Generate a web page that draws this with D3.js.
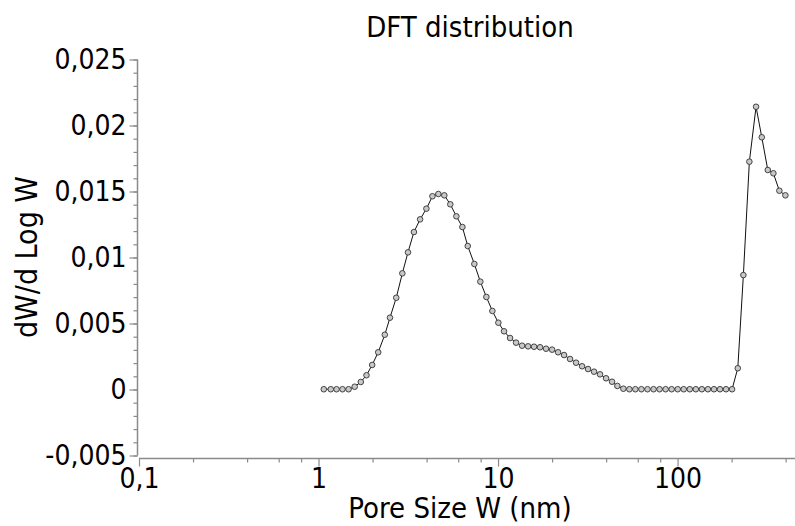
<!DOCTYPE html>
<html>
<head>
<meta charset="utf-8">
<script src="https://cdn.jsdelivr.net/npm/d3@7"></script>
<style>
  html, body { margin: 0; padding: 0; background: #fff; }
  svg { display: block; }
  text { font-family: "DejaVu Sans Condensed", "DejaVu Sans", sans-serif; font-stretch: condensed; fill: #000; }
</style>
</head>
<body>
<svg id="chart"></svg>
<script>
// pore size W (nm)
const poreSize = [
  1.07, 1.17, 1.26, 1.36, 1.47, 1.59, 1.72, 1.85, 1.99, 2.15,
  2.34, 2.50, 2.71, 2.93, 3.15, 3.40, 3.68, 3.99, 4.31, 4.65,
  5.02, 5.42, 5.86, 6.33, 6.78, 7.38, 7.97, 8.61, 9.30, 10.04,
  10.80, 11.67, 12.60, 13.61, 14.70, 15.87, 17.14, 18.51, 20.00, 21.60,
  23.32, 25.19, 27.20, 29.38, 31.72, 34.26, 37.00, 39.96, 43.16, 46.19,
  49.90, 53.9, 58.2, 62.9, 68.0, 73.5, 79.4, 85.8, 92.7, 100.2,
  108.2, 117.0, 126.4, 136.6, 147.6, 159.5, 172.3, 186.2, 201.2, 216.5,
  232.6, 251.2, 273.7, 294.5, 318.1, 341.8, 369.0, 398.7
];

// dW/d Log W
const dWdLogW = [
  0.00002, 0.00002, 0.00002, 0.00002, 0.00002, 0.00021, 0.00057, 0.00108, 0.00186, 0.00282,
  0.00415, 0.00544, 0.00695, 0.00880, 0.01039, 0.01193, 0.01289, 0.01370, 0.01464, 0.01481,
  0.01471, 0.01403, 0.01312, 0.01231, 0.01087, 0.00951, 0.00817, 0.00701, 0.00595, 0.00506,
  0.00441, 0.00390, 0.00355, 0.00332, 0.00327, 0.00324, 0.00320, 0.00309, 0.00302, 0.00282,
  0.00261, 0.00231, 0.00203, 0.00176, 0.00155, 0.00135, 0.00115, 0.00085, 0.00059, 0.00027,
  0.00006, 0.00002, 0.00002, 0.00002, 0.00002, 0.00002, 0.00002, 0.00002, 0.00002, 0.00002,
  0.00002, 0.00002, 0.00002, 0.00002, 0.00002, 0.00002, 0.00002, 0.00002, 0.00002, 0.00161,
  0.00867, 0.01726, 0.02142, 0.01911, 0.01663, 0.01638, 0.01506, 0.01471
];

const xMajorTicks = [0.1, 1, 10, 100];
const xMinorTicks = [0.2, 0.4, 0.6, 0.8, 2, 4, 6, 8, 20, 40, 60, 80, 200, 400];
const yMajorTicks = [-0.005, 0, 0.005, 0.01, 0.015, 0.02, 0.025];

const title = 'DFT distribution';
const xLabel = 'Pore Size W (nm)';
const yLabel = 'dW/d Log W';

const width = 795, height = 526;
const svg = d3.select('#chart').attr('width', width).attr('height', height);

const x = d3.scaleLog().domain([0.1, 451]).range([139, 795]);
const y = d3.scaleLinear().domain([-0.005, 0.025]).range([455.5, 59.5]);

const comma = d => String(d).replace('.', ',');
const axisColor = '#8a8a8a';
const fontSize = 28;

// y axis (major + minor)
const yAxisX = 137.5;
const gyMinor = svg.append('g').attr('transform', `translate(${yAxisX},0)`)
  .call(d3.axisLeft(y).tickValues(y.ticks(30)).tickSize(4).tickFormat(''));
const gy = svg.append('g').attr('transform', `translate(${yAxisX},0)`)
  .call(d3.axisLeft(y).tickValues(yMajorTicks).tickSize(8).tickPadding(3).tickFormat(comma));

// x axis (major + minor)
const xAxisY = 458.5;
const gxMinor = svg.append('g').attr('transform', `translate(0,${xAxisY})`)
  .call(d3.axisBottom(x).tickValues(xMinorTicks).tickSize(4).tickFormat(''));
const gx = svg.append('g').attr('transform', `translate(0,${xAxisY})`)
  .call(d3.axisBottom(x).tickValues(xMajorTicks).tickSize(8).tickPadding(2).tickFormat(comma));

[gy, gyMinor, gx, gxMinor].forEach(g => {
  g.select('.domain').attr('stroke', axisColor).attr('stroke-width', 1.5);
  g.selectAll('.tick line').attr('stroke', axisColor).attr('stroke-width', 1.2);
  g.selectAll('.tick text')
    .attr('fill', '#000')
    .style('font-size', fontSize + 'px')
    .style('font-family', '"DejaVu Sans Condensed", "DejaVu Sans", sans-serif');
});
gy.select('.domain').attr('d', `M0,${y(-0.005)}V${y(0.025)}`);
gyMinor.select('.domain').remove();
gx.select('.domain').attr('d', `M${x(0.1)},0H${width}`);
gxMinor.select('.domain').remove();

// curve
const pts = poreSize.map((w, i) => ({ w: w, v: dWdLogW[i] }));

svg.append('path')
  .datum(pts)
  .attr('fill', 'none')
  .attr('stroke', '#111')
  .attr('stroke-width', 1)
  .attr('d', d3.line().x(d => x(d.w)).y(d => y(d.v)));

svg.append('g')
  .selectAll('circle')
  .data(pts)
  .enter()
  .append('circle')
  .attr('cx', d => x(d.w))
  .attr('cy', d => y(d.v))
  .attr('r', 2.8)
  .attr('fill', '#c8c8c8')
  .attr('stroke', '#333')
  .attr('stroke-width', 0.9);

// titles
svg.append('text')
  .attr('x', 470)
  .attr('y', 37)
  .attr('text-anchor', 'middle')
  .style('font-size', '29px')
  .text(title);

svg.append('text')
  .attr('x', 460)
  .attr('y', 518)
  .attr('text-anchor', 'middle')
  .style('font-size', '29px')
  .text(xLabel);

svg.append('text')
  .attr('transform', 'translate(37,257) rotate(-90)')
  .attr('text-anchor', 'middle')
  .style('font-size', '30px')
  .text(yLabel);
</script>
</body>
</html>
